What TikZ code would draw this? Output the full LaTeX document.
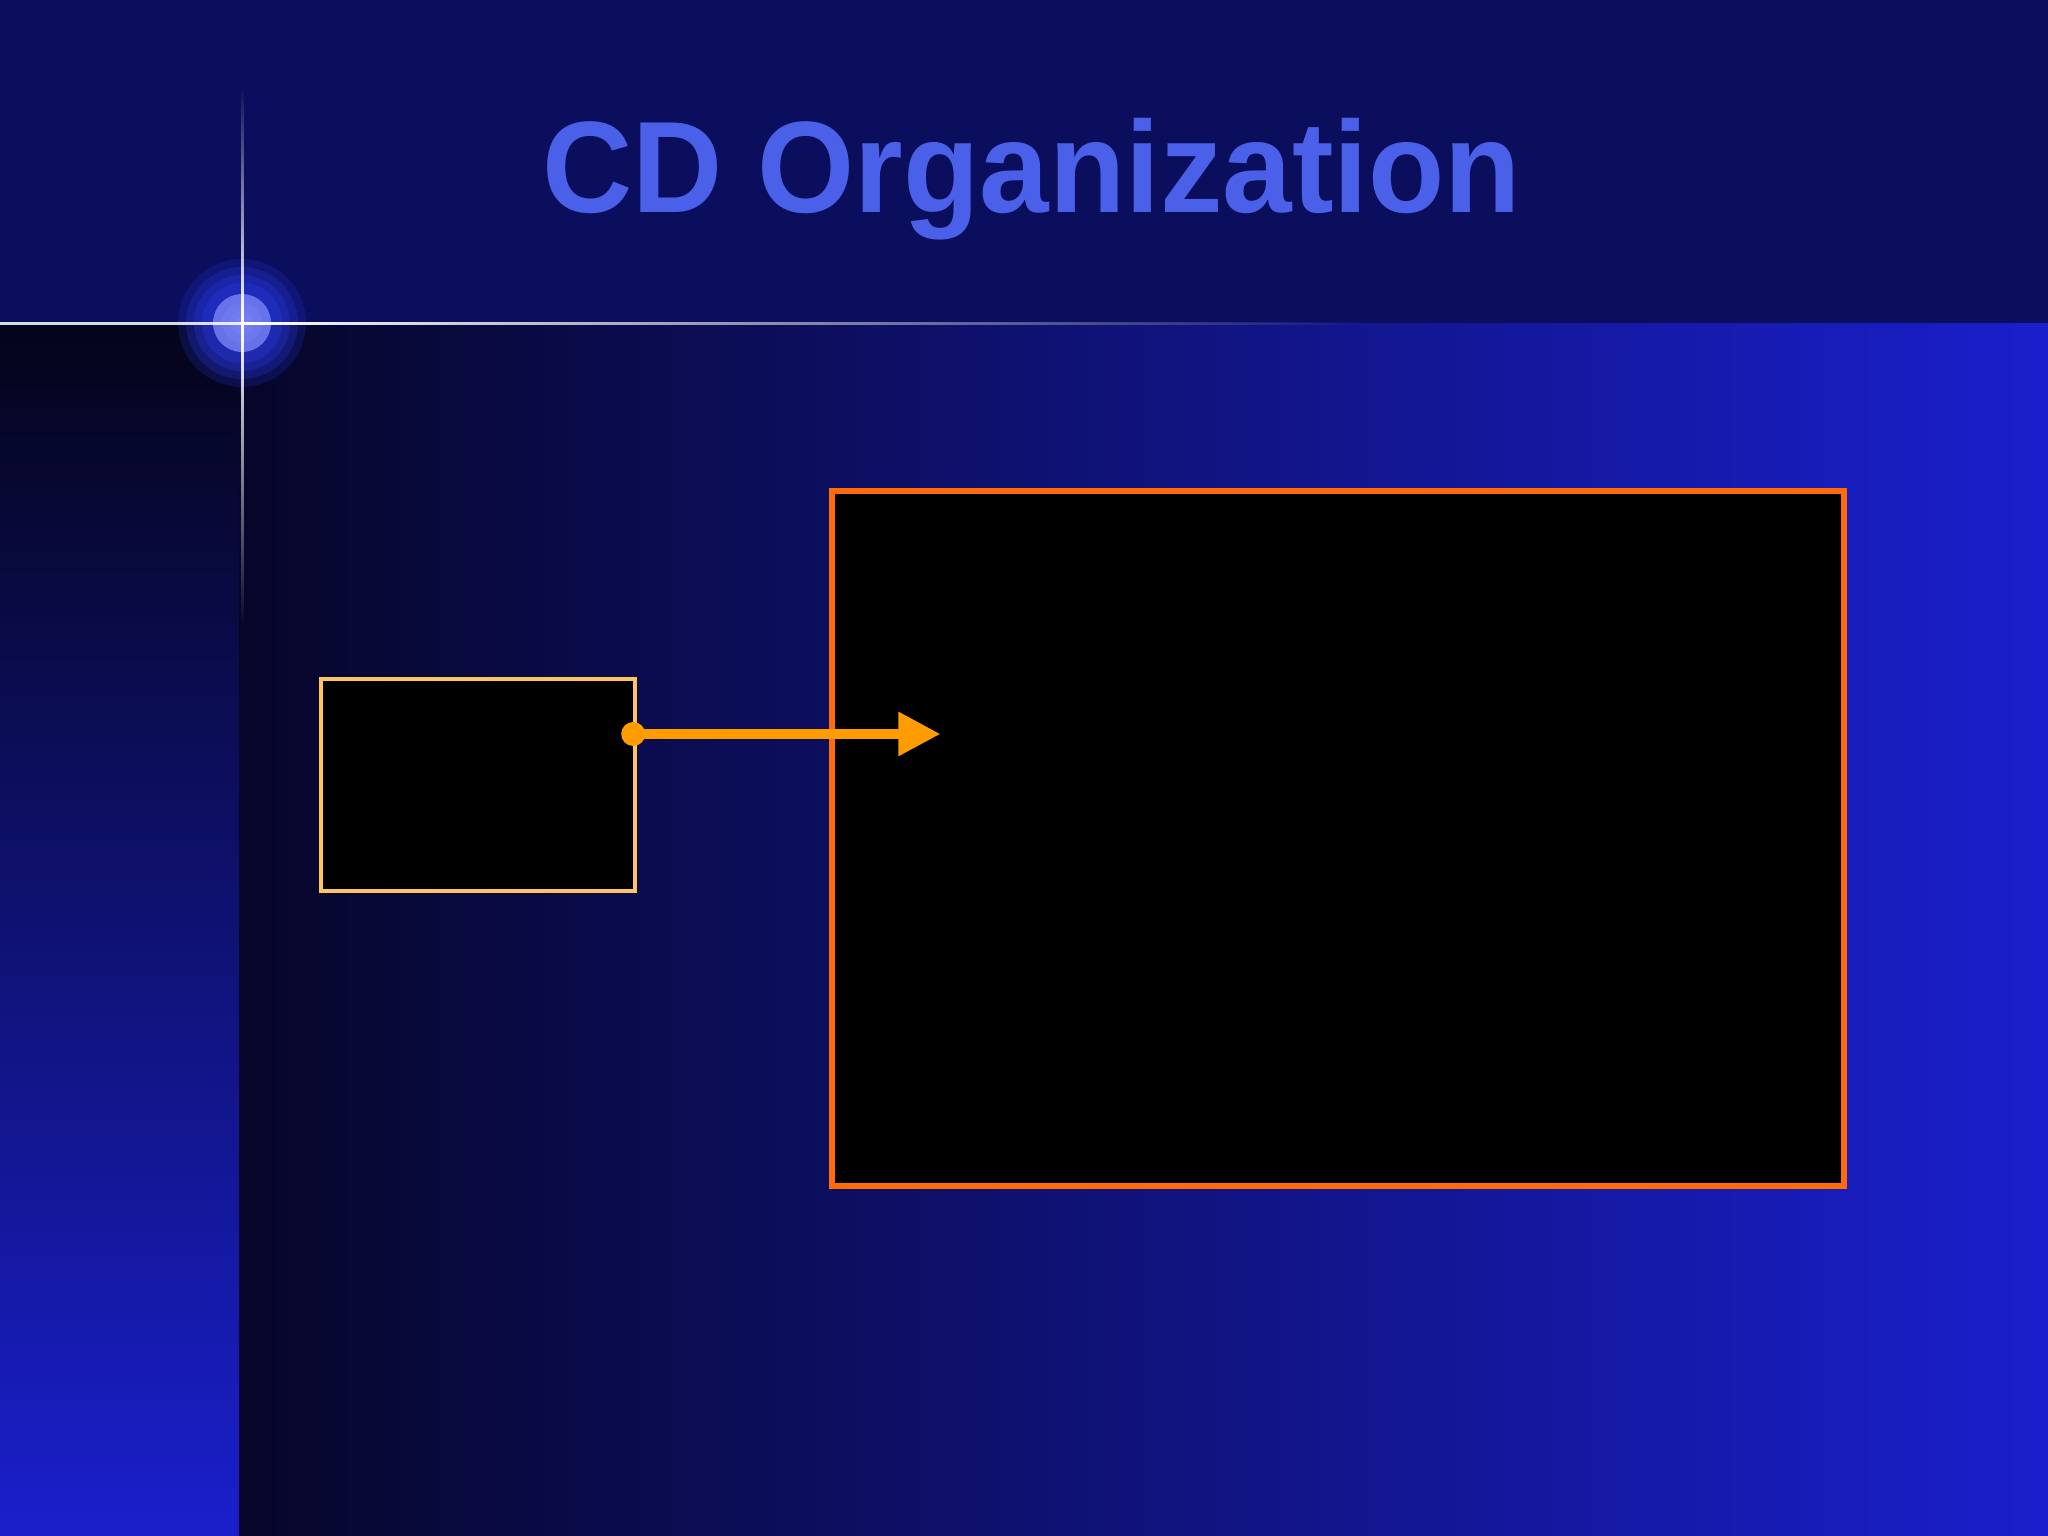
\documentclass[tikz,border=0pt]{standalone}
\usepackage{fontspec}
\newfontfamily\titlefont{Liberation Sans}
\usetikzlibrary{arrows.meta,fadings,positioning}
\definecolor{headbg}{RGB}{11,14,92}
\definecolor{deepbg}{RGB}{6,6,42}
\definecolor{brightbg}{RGB}{26,31,204}
\definecolor{stripbg}{RGB}{4,4,26}
\definecolor{titleblue}{RGB}{74,96,232}
\definecolor{glowblue}{RGB}{40,55,225}
\definecolor{glowcore}{RGB}{100,112,245}
\definecolor{sectorline}{RGB}{255,196,98}
\definecolor{detailline}{RGB}{255,106,10}
\definecolor{linkorange}{RGB}{255,156,0}
\tikzfading[name=fade right, left color=transparent!0, right color=transparent!100]
\tikzfading[name=fade up, top color=transparent!100, bottom color=transparent!0]
\tikzfading[name=fade down, top color=transparent!0, bottom color=transparent!100]
\tikzset{
  titletext/.style={font=\titlefont\bfseries\fontsize{37}{42}\selectfont, text=titleblue, inner sep=0pt, xscale=0.96, transform shape},
  cdbox/.style={draw, fill=black, inner sep=0pt},
  link/.style={linkorange, line width=2.6pt, -{Triangle[length=0.42cm,width=0.42cm]}}
}
\begin{document}
\begin{tikzpicture}[x=0.01cm, y=-0.01cm]
\useasboundingbox (0,0) rectangle (2048,1536);
\fill[headbg] (0,0) rectangle (2048,323);
\shade[left color=deepbg, right color=brightbg] (239,323) rectangle (2048,1536);
\shade[top color=stripbg, bottom color=brightbg] (0,323) rectangle (239,1536);
\coordinate (star) at (242,323);
\foreach \r/\o in {64/0.2, 56/0.25, 48/0.3, 40/0.35}
  \fill[glowblue, opacity=\o] (star) circle (\r*0.01cm);
\foreach \r/\o in {29/0.8, 20/0.35, 12/0.4, 6/0.5}
  \fill[glowcore!85!white, opacity=\o] (star) circle (\r*0.01cm);
\fill[white, opacity=0.85] (0,321.5) rectangle (242,324.5);
\fill[white, path fading=fade right] (242,321.5) rectangle (1370,324.5);
\fill[white, path fading=fade up] (240.5,85) rectangle (243.5,323);
\fill[white, path fading=fade down] (240.5,323) rectangle (243.5,627);
\node[titletext, anchor=base] (title) at (1032,212) {CD Organization};
\node[cdbox, draw=sectorline, line width=1.2pt, minimum width=3.14cm, minimum height=2.12cm] (sector) at (478,785) {};
\node[cdbox, draw=detailline, line width=1.7pt, minimum width=10.12cm, minimum height=6.95cm] (detail) at (1338,838.5) {};
\coordinate (tail) at ([xshift=-0.04cm, yshift=0.51cm]sector.east);
\coordinate (tip) at ([xshift=3.07cm]tail);
\draw[link] (tail) -- (tip);
\fill[linkorange] (tail) circle (0.12cm);
\end{tikzpicture}
\end{document}
